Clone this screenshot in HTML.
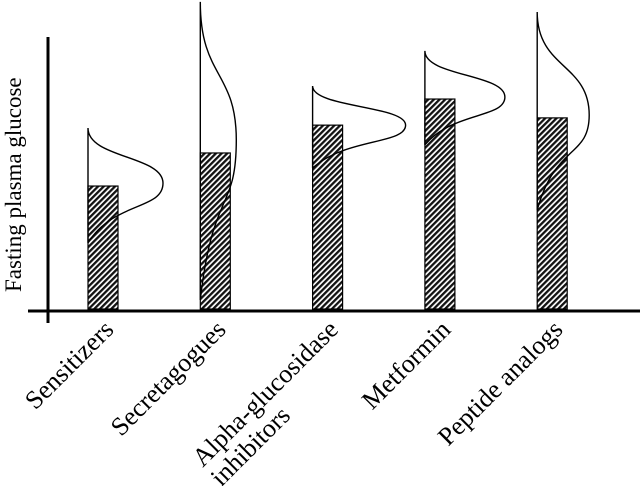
<!DOCTYPE html>
<html><head><meta charset="utf-8"><style>
html,body{margin:0;padding:0;background:#fff;}
svg{display:block;}
text{font-family:"Liberation Serif","Times New Roman",serif;fill:#000;}
</style></head><body>
<svg id="chart" width="640" height="486" viewBox="0 0 640 486">
<defs>
<pattern id="hatch" patternUnits="userSpaceOnUse" width="4" height="4" patternTransform="rotate(45)">
<rect width="4" height="4" fill="#fff"/>
<rect width="2.3" height="4" fill="#111"/>
</pattern>
</defs>
<g id="plot"></g>
<line x1="48" y1="37" x2="48" y2="323" stroke="#000" stroke-width="3"/>
<line x1="28" y1="311" x2="640" y2="311" stroke="#000" stroke-width="3"/>
<text x="0" y="0" font-size="23" transform="translate(21,292) rotate(-90)">Fasting plasma glucose</text>
</svg>
<script>
// data (glucose level, arbitrary units)
const categories = ["Sensitizers", "Secretagogues", "Alpha-glucosidase", "Metformin", "Peptide analogs"];
const labelLine2 = ["", "", "inhibitors", "", ""];
const barValues = [42.4, 53.8, 63.4, 72.4, 65.9];
const distTop = [62.4, 105.9, 76.9, 89, 102.4];
const distPeak = [43.4, 58.3, 63.4, 73.1, 66.9];
const distBottom = [22.8, 3.1, 48.6, 56.6, 34.1];
const distWidth = [45, 6, 63, 50, 22];

const svg = document.getElementById('chart');
const plot = document.getElementById('plot');
const NS = 'http://www.w3.org/2000/svg';
const y0 = 309, yScale = 2.9;
function yPos(v){ return y0 - v * yScale; }
function xPos(i){ return 88 + i * 112.3; }
const barW = 30;

categories.forEach((c, i) => {
  const x = xPos(i);
  const bar = document.createElementNS(NS, 'rect');
  bar.setAttribute('x', x);
  bar.setAttribute('y', yPos(barValues[i]));
  bar.setAttribute('width', barW);
  bar.setAttribute('height', y0 - yPos(barValues[i]));
  bar.setAttribute('fill', 'url(#hatch)');
  bar.setAttribute('stroke', '#000');
  bar.setAttribute('stroke-width', '1.2');
  
  
  plot.appendChild(bar);

  const yt = yPos(distTop[i]), yp = yPos(distPeak[i]), yb = yPos(distBottom[i]);
  const px = x + barW + distWidth[i];
  const span1 = yp - yt, span2 = yb - yp;
  const d = `M${x},${yb} L${x},${yt} C${x},${yt + span1 * 0.55} ${px},${yt + span1 * 0.5} ${px},${yp} ` +
            `C${px},${yp + span2 * 0.45} ${x + (px - x) * 0.35},${yp + span2 * 0.3} ${x},${yb}`;
  const p = document.createElementNS(NS, 'path');
  p.setAttribute('d', d);
  p.setAttribute('fill', 'none');
  p.setAttribute('stroke', '#000');
  p.setAttribute('stroke-width', '1.4');
  
  
  plot.appendChild(p);

  const ax = x + 27, ay = 331;
  const t = document.createElementNS(NS, 'text');
  t.setAttribute('x', 0);
  t.setAttribute('y', 0);
  t.setAttribute('font-size', '26');
  t.setAttribute('text-anchor', 'end');
  t.setAttribute('transform', `translate(${ax},${ay}) rotate(-45)`);
  t.textContent = c;
  
  
  svg.appendChild(t);

  if (labelLine2[i]) {
    const t2 = document.createElementNS(NS, 'text');
    t2.setAttribute('x', 0);
    t2.setAttribute('y', 0);
    t2.setAttribute('font-size', '26');
    t2.setAttribute('text-anchor', 'end');
    t2.setAttribute('transform', `translate(${ax - 48},${ay + 86}) rotate(-45)`);
    t2.textContent = labelLine2[i];
    
    
    svg.appendChild(t2);
  }
});
</script>
</body></html>
